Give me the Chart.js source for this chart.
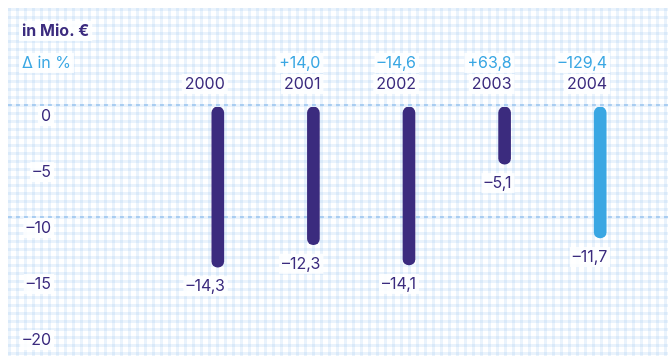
<!DOCTYPE html>
<html>
<head>
<meta charset="utf-8">
<script src="https://cdn.jsdelivr.net/npm/chart.js@4/dist/chart.umd.min.js"></script>
<style>
  html, body { margin: 0; padding: 0; background: #fff; }
  #wrap { width: 668px; height: 356px; }
</style>
</head>
<body>
<div id="wrap"><canvas id="chart" width="668" height="356"></canvas></div>
<script>
// Werte in Mio. €
const years = ['2000', '2001', '2002', '2003', '2004'];
const values = [-14.3, -12.3, -14.1, -5.1, -11.7];
// Veränderung in %
const deltas = [null, 14.0, -14.6, 63.8, -129.4];
// hervorgehobene Gitterlinien
const strongLines = [0, -10];

const DARK = '#3b2b7e';
const LIGHT = '#3aa7e3';
const barColors = [DARK, DARK, DARK, DARK, LIGHT];
const FONT = 'Inter, "Noto Sans", sans-serif';

function fmt(v, sign) {
  const s = Math.abs(v).toFixed(1).replace('.', ',');
  if (v < 0) return '\u2013' + s;
  return sign ? '+' + s : s;
}

// Text mit weißem Hintergrund
function label(ctx, text, x, y, align, color, font) {
  ctx.font = font;
  const w = ctx.measureText(text).width;
  const left = align === 'right' ? x - w : x;
  ctx.fillStyle = 'rgba(255,255,255,0.85)';
  ctx.fillRect(left - 3, y - 10, w + 6, 20);
  ctx.fillStyle = color;
  ctx.textAlign = align;
  ctx.textBaseline = 'middle';
  ctx.fillText(text, x, y);
}

// kariertes Hintergrundmuster
const paperPlugin = {
  id: 'paper',
  beforeDraw(chart) {
    const ctx = chart.ctx;
    const W = chart.width, H = chart.height;
    const ys = chart.scales.y;
    ctx.save();
    ctx.fillStyle = '#fff';
    ctx.fillRect(0, 0, W, H);
    ctx.fillStyle = 'rgba(160,200,240,0.22)';
    for (let x = 8; x < W; x += 8) ctx.fillRect(x, 8, 3, H - 8);
    for (let y = 8; y < H; y += 8) ctx.fillRect(8, y, W - 8, 3);
    // hervorgehobene Linien
    ctx.strokeStyle = 'rgba(110,170,230,0.45)';
    ctx.lineWidth = 2;
    ctx.setLineDash([4, 4]);
    strongLines.forEach(v => {
      const y = Math.round(ys.getPixelForValue(v)) - 2;
      ctx.beginPath();
      ctx.moveTo(8, y);
      ctx.lineTo(W, y);
      ctx.stroke();
    });
    ctx.restore();
  },
  afterDraw(chart) {
    const ctx = chart.ctx;
    const ys = chart.scales.y;
    const meta = chart.getDatasetMeta(0);
    ctx.save();
    label(ctx, 'in Mio. \u20ac', 22, 31, 'left', DARK, 'bold 16px ' + FONT);
    label(ctx, '\u0394 in %', 22, 63, 'left', LIGHT, '16px ' + FONT);
    ys.ticks.forEach(t => {
      const y = ys.getPixelForValue(t.value);
      const txt = t.value < 0 ? '\u2013' + Math.abs(t.value) : String(t.value);
      label(ctx, txt, 51, y + 9, 'right', DARK, '16px ' + FONT);
    });
    meta.data.forEach((bar, i) => {
      const right = bar.x + bar.width / 2 + 1;
      label(ctx, years[i], right, 84, 'right', DARK, '16px ' + FONT);
      if (deltas[i] !== null) label(ctx, fmt(deltas[i], true), right, 63, 'right', LIGHT, '16px ' + FONT);
      label(ctx, fmt(values[i]), right, bar.y + 19, 'right', DARK, '16px ' + FONT);
    });
    ctx.restore();
  }
};

new Chart(document.getElementById('chart'), {
  type: 'bar',
  data: {
    labels: years,
    datasets: [{
      data: values,
      backgroundColor: barColors,
      barThickness: 12,
      borderRadius: 6,
      borderSkipped: false
    }]
  },
  options: {
    responsive: false,
    animation: false,
    layout: { padding: { top: 107, bottom: 25, left: 170, right: 20 } },
    scales: {
      x: { display: false },
      y: { min: -20, max: 0, ticks: { stepSize: 5 }, display: false }
    },
    plugins: { legend: { display: false }, tooltip: { enabled: false } }
  },
  plugins: [paperPlugin]
});
</script>
</body>
</html>
